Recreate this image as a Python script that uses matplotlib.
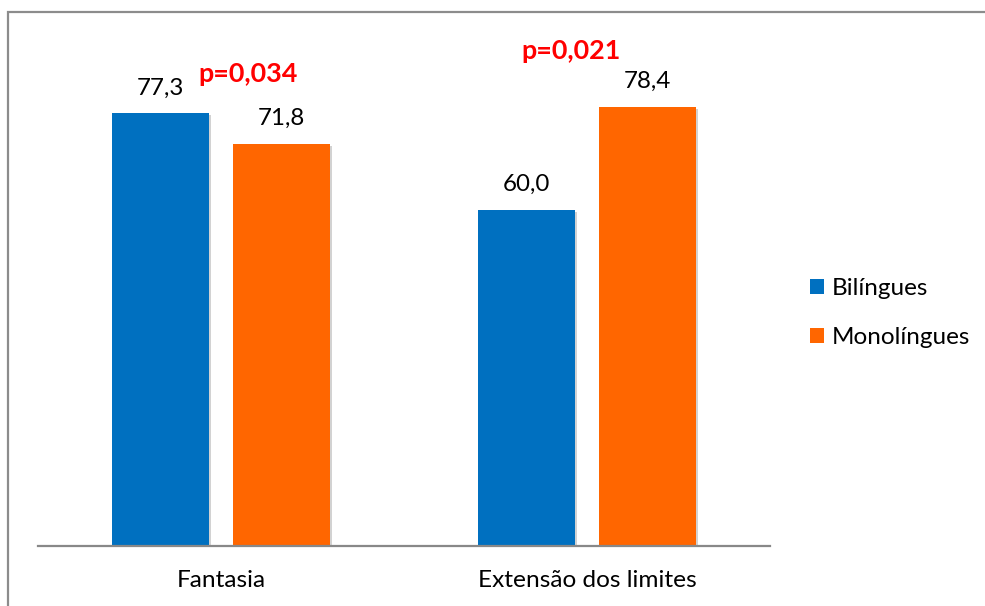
import numpy as np
import matplotlib
matplotlib.use('Agg')
import matplotlib.pyplot as plt
from matplotlib.patches import Rectangle, Patch
from matplotlib import patheffects as pe

plt.rcParams['font.family'] = ['Lato', 'DejaVu Sans']

# data
categories = ['Fantasia', 'Extensão dos limites']
series_names = ['Bilíngues', 'Monolíngues']
bilingues = [77.3, 60.0]
monolingues = [71.8, 78.4]
p_labels = ['p=0,034', 'p=0,021']
p_pos = [(0.075, 82.9), (0.955, 87.0)]   # (x, baseline y) in data units

colors = ['#0070C0', '#FF6600']

fig = plt.figure(figsize=(9.85, 6.06), dpi=100)
ax = fig.add_axes([38/985, 60/606, 732/985, 504/606])

x = np.arange(len(categories))
w = 0.265
off = 0.165
shadow = [pe.SimplePatchShadow(offset=(1.5, -1.5), shadow_rgbFace='#808080', alpha=0.35), pe.Normal()]

for vals, dx, c in zip([bilingues, monolingues], [-off, off], colors):
    bars = ax.bar(x + dx, vals, width=w, color=c, zorder=2)
    for b in bars:
        b.set_path_effects(shadow)
    for xi, v in zip(x + dx, vals):
        ax.annotate(('%.1f' % v).replace('.', ','), (xi, v), xytext=(0, 13.5),
                    textcoords='offset points', ha='center', va='baseline',
                    fontsize=17.4, color='black')

for lab, (px, py) in zip(p_labels, p_pos):
    ax.text(px, py, lab, ha='center', va='baseline', fontsize=19.4,
            fontweight='bold', color='#FF0000')

ax.set_xlim(-0.5, 1.5)
ax.set_ylim(0, 90)
ax.set_xticks(x)
ax.set_xticklabels(categories, fontsize=17.6)
ax.tick_params(axis='x', length=0, pad=17)
ax.set_yticks([])
for s in ['top', 'right', 'left']:
    ax.spines[s].set_visible(False)
ax.spines['bottom'].set_color('#888888')
ax.spines['bottom'].set_linewidth(1.6)
ax.spines['bottom'].set_zorder(3)

handles = [Patch(facecolor=c) for c in colors]
fig.legend(handles, series_names, loc='center left',
           bbox_to_anchor=(810/985, (606-313)/606), frameon=False,
           fontsize=17.5, handlelength=0.58, handleheight=0.58,
           handletextpad=0.3, labelspacing=1.15, borderpad=0, borderaxespad=0)

# outer chart border (top and left visible, rest cropped)
fig.add_artist(Rectangle((8/985, -0.1), 1.2, (606-12)/606 + 0.1, fill=False,
                         edgecolor='#8c8c8c', linewidth=1.6,
                         transform=fig.transFigure, clip_on=False))

fig.savefig('out.png', dpi=100)
